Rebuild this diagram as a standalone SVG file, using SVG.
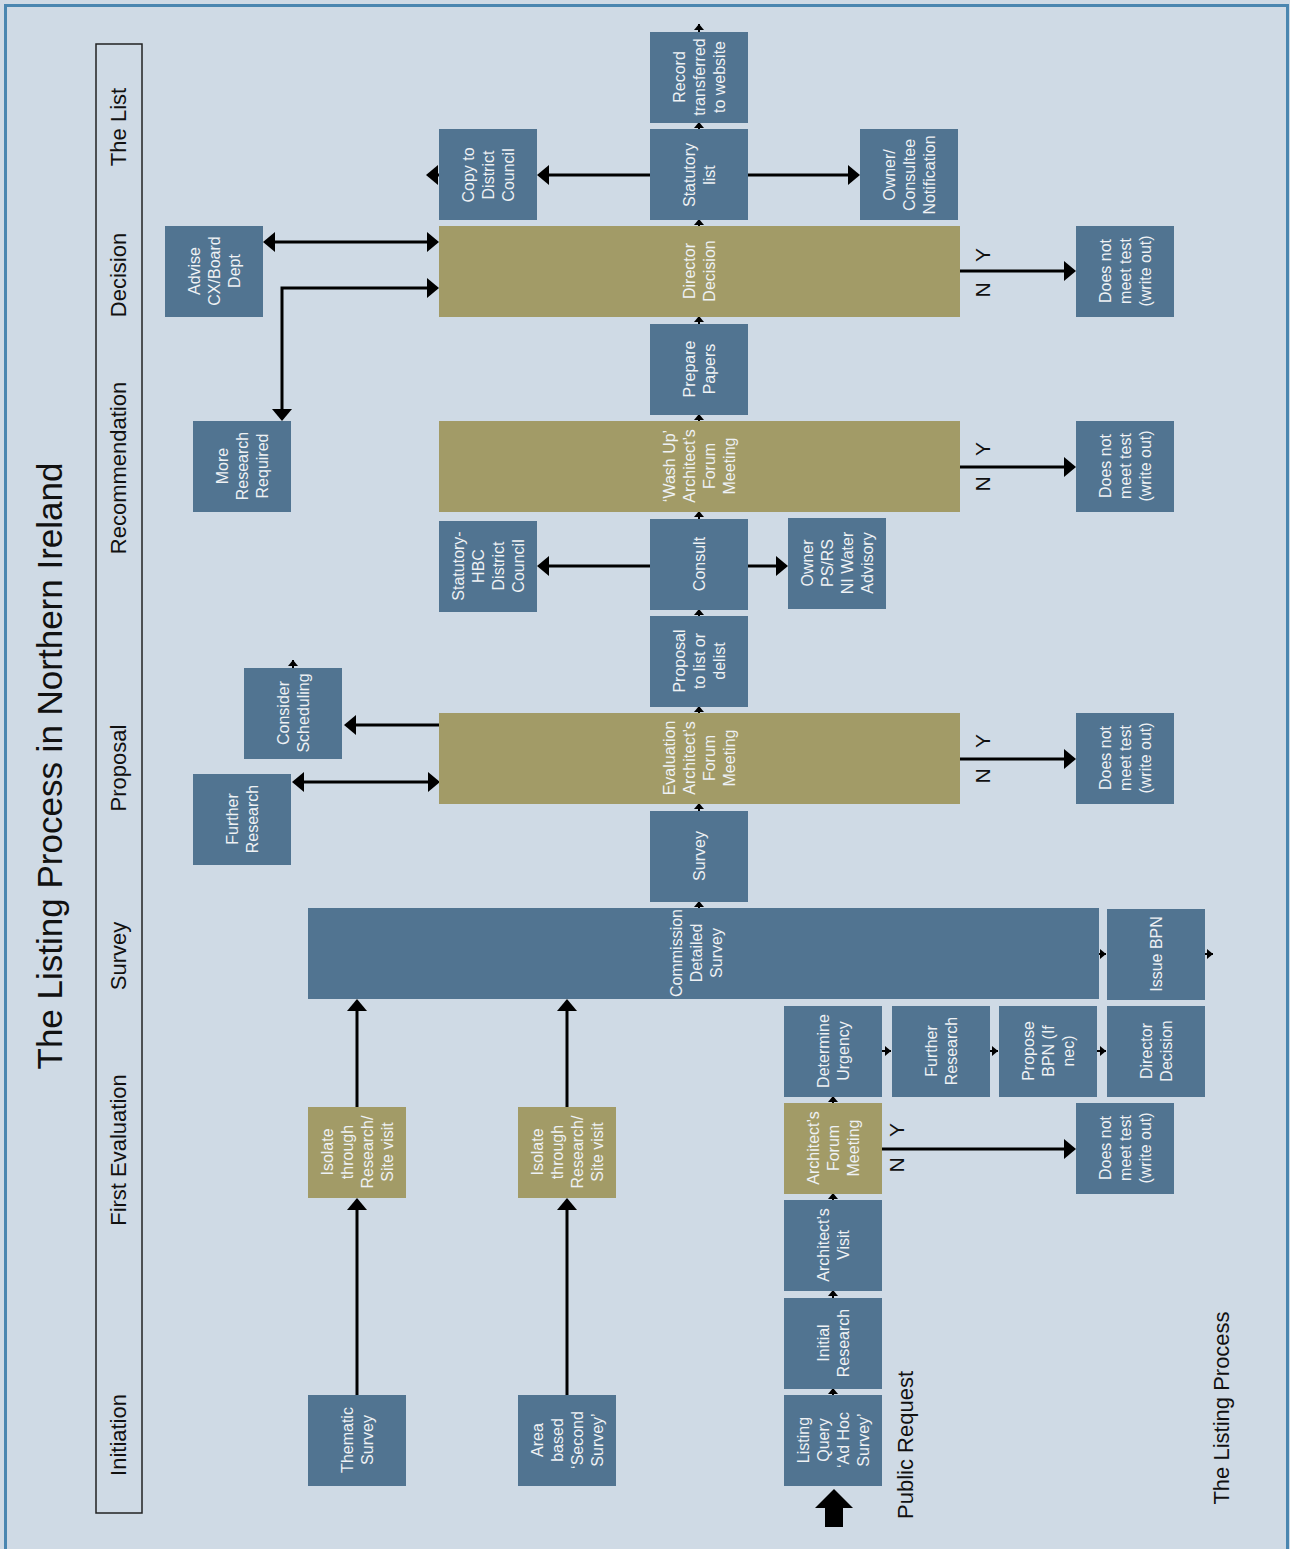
<svg xmlns="http://www.w3.org/2000/svg" width="1290" height="1549" viewBox="0 0 1290 1549">
<defs>
<style>
.b{fill:#517491}
.g{fill:#A29B67}
.t{font-family:"Liberation Sans",Arial,sans-serif;font-size:16px;fill:#EEF1F4;text-anchor:middle}
.h{font-family:"Liberation Sans",Arial,sans-serif;font-size:22px;fill:#111;text-anchor:middle}
.yn{font-family:"Liberation Sans",Arial,sans-serif;font-size:21px;fill:#111;text-anchor:middle}
.c{fill:none;stroke:#000;stroke-width:3}
.s{fill:none;stroke:#000;stroke-width:2}
</style>
<marker id="ah" markerUnits="userSpaceOnUse" markerWidth="13" markerHeight="20" refX="9" refY="10" orient="auto-start-reverse"><path d="M0,0 L12,10 L0,20 z" fill="#000"/></marker>
<marker id="sa" markerUnits="userSpaceOnUse" markerWidth="7" markerHeight="10" refX="6" refY="5" orient="auto"><path d="M0,0 L6,5 L0,10 z" fill="#000"/></marker>
</defs>
<rect x="0" y="0" width="1290" height="1549" fill="#CFDAE5"/>
<rect x="5.5" y="5.5" width="1282" height="1560" fill="none" stroke="#4A86B0" stroke-width="3"/>

<text transform="translate(62,766) rotate(-90)" font-family="'Liberation Sans',Arial,sans-serif" font-size="35" fill="#111" text-anchor="middle">The Listing Process in Northern Ireland</text>

<g id="header">
<rect x="96" y="44" width="46" height="1469" fill="none" stroke="#222" stroke-width="1.5"/>
<text class="h" transform="translate(126,127) rotate(-90)">The List</text>
<text class="h" transform="translate(126,275) rotate(-90)">Decision</text>
<text class="h" transform="translate(126,468) rotate(-90)">Recommendation</text>
<text class="h" transform="translate(126,768) rotate(-90)">Proposal</text>
<text class="h" transform="translate(126,956) rotate(-90)">Survey</text>
<text class="h" transform="translate(126,1150) rotate(-90)">First Evaluation</text>
<text class="h" transform="translate(126,1435) rotate(-90)">Initiation</text>
</g>

<text class="h" transform="translate(913,1445) rotate(-90)">Public Request</text>
<text class="h" transform="translate(1229,1408) rotate(-90)">The Listing Process</text>

<g id="connectors">
<path class="c" d="M650,175 H540" marker-end="url(#ah)"/>
<path class="c" d="M439,175 H429" marker-end="url(#ah)"/>
<path class="c" d="M748,175 H857" marker-end="url(#ah)"/>
<path class="c" d="M266,242 H436" marker-start="url(#ah)" marker-end="url(#ah)"/>
<path class="c" d="M282,418 V288 H436" marker-start="url(#ah)" marker-end="url(#ah)"/>
<path class="c" d="M960,271 H1073" marker-end="url(#ah)"/>
<path class="c" d="M960,467 H1073" marker-end="url(#ah)"/>
<path class="c" d="M650,566 H540" marker-end="url(#ah)"/>
<path class="c" d="M748,566 H785" marker-end="url(#ah)"/>
<path class="c" d="M439,725 H347" marker-end="url(#ah)"/>
<path class="c" d="M295,782 H437" marker-start="url(#ah)" marker-end="url(#ah)"/>
<path class="c" d="M960,759 H1073" marker-end="url(#ah)"/>
<path class="c" d="M882,1149 H1073" marker-end="url(#ah)"/>
<path class="c" d="M357,1395 V1201" marker-end="url(#ah)"/>
<path class="c" d="M357,1107 V1002" marker-end="url(#ah)"/>
<path class="c" d="M567,1395 V1201" marker-end="url(#ah)"/>
<path class="c" d="M567,1107 V1002" marker-end="url(#ah)"/>

<path class="s" d="M699,32 V24" marker-end="url(#sa)"/>
<path class="s" d="M699,129 V122" marker-end="url(#sa)"/>
<path class="s" d="M699,226 V219" marker-end="url(#sa)"/>
<path class="s" d="M699,324 V316" marker-end="url(#sa)"/>
<path class="s" d="M699,421 V414" marker-end="url(#sa)"/>
<path class="s" d="M699,519 V511" marker-end="url(#sa)"/>
<path class="s" d="M699,616 V609" marker-end="url(#sa)"/>
<path class="s" d="M699,713 V706" marker-end="url(#sa)"/>
<path class="s" d="M699,811 V803" marker-end="url(#sa)"/>
<path class="s" d="M699,908 V901" marker-end="url(#sa)"/>
<path class="s" d="M293,668 V660" marker-end="url(#sa)"/>
<path class="s" d="M833,1395 V1388" marker-end="url(#sa)"/>
<path class="s" d="M833,1298 V1290" marker-end="url(#sa)"/>
<path class="s" d="M833,1200 V1193" marker-end="url(#sa)"/>
<path class="s" d="M833,1103 V1096" marker-end="url(#sa)"/>
<path class="s" d="M882,1051 H891" marker-end="url(#sa)"/>
<path class="s" d="M990,1051 H998" marker-end="url(#sa)"/>
<path class="s" d="M1097,1051 H1106" marker-end="url(#sa)"/>
<path class="s" d="M1099,954 H1106" marker-end="url(#sa)"/>
<path class="s" d="M1205,954 H1213" marker-end="url(#sa)"/>

<polygon points="834,1489 853,1508 843,1508 843,1527 825,1527 825,1508 815,1508" fill="#000"/>

<text class="yn" transform="translate(983,255) rotate(-90)" dy="7">Y</text>
<text class="yn" transform="translate(983,290) rotate(-90)" dy="7">N</text>
<text class="yn" transform="translate(983,449) rotate(-90)" dy="7">Y</text>
<text class="yn" transform="translate(983,484) rotate(-90)" dy="7">N</text>
<text class="yn" transform="translate(983,741) rotate(-90)" dy="7">Y</text>
<text class="yn" transform="translate(983,776) rotate(-90)" dy="7">N</text>
<text class="yn" transform="translate(897,1130) rotate(-90)" dy="7">Y</text>
<text class="yn" transform="translate(897,1165) rotate(-90)" dy="7">N</text>
</g>

<g id="n-record"><rect class="b" x="650" y="32" width="98" height="91"/>
<text class="t" transform="translate(699,77) rotate(-90)"><tspan x="0" y="-14.5">Record</tspan><tspan x="0" y="5.5">transferred</tspan><tspan x="0" y="25.5">to website</tspan></text></g>

<g id="n-statutory"><rect class="b" x="650" y="129" width="98" height="91"/>
<text class="t" transform="translate(699,175) rotate(-90)"><tspan x="0" y="-4.5">Statutory</tspan><tspan x="0" y="15.5">list</tspan></text></g>

<g id="n-copy"><rect class="b" x="439" y="129" width="98" height="91"/>
<text class="t" transform="translate(488,175) rotate(-90)"><tspan x="0" y="-14.5">Copy to</tspan><tspan x="0" y="5.5">District</tspan><tspan x="0" y="25.5">Council</tspan></text></g>

<g id="n-owner"><rect class="b" x="860" y="129" width="98" height="91"/>
<text class="t" transform="translate(909,175) rotate(-90)"><tspan x="0" y="-14.5">Owner/</tspan><tspan x="0" y="5.5">Consultee</tspan><tspan x="0" y="25.5">Notification</tspan></text></g>

<g id="n-director"><rect class="g" x="439" y="226" width="521" height="91"/>
<text class="t" transform="translate(699,271) rotate(-90)"><tspan x="0" y="-4.5">Director</tspan><tspan x="0" y="15.5">Decision</tspan></text></g>

<g id="n-advise"><rect class="b" x="165" y="226" width="98" height="91"/>
<text class="t" transform="translate(214,271) rotate(-90)"><tspan x="0" y="-14.5">Advise</tspan><tspan x="0" y="5.5">CX/Board</tspan><tspan x="0" y="25.5">Dept</tspan></text></g>

<g id="n-dnm1"><rect class="b" x="1076" y="226" width="98" height="91"/>
<text class="t" transform="translate(1125,271) rotate(-90)"><tspan x="0" y="-14.5">Does not</tspan><tspan x="0" y="5.5">meet test</tspan><tspan x="0" y="25.5">(write out)</tspan></text></g>

<g id="n-prepare"><rect class="b" x="650" y="324" width="98" height="91"/>
<text class="t" transform="translate(699,369) rotate(-90)"><tspan x="0" y="-4.5">Prepare</tspan><tspan x="0" y="15.5">Papers</tspan></text></g>

<g id="n-more"><rect class="b" x="193" y="421" width="98" height="91"/>
<text class="t" transform="translate(242,466) rotate(-90)"><tspan x="0" y="-14.5">More</tspan><tspan x="0" y="5.5">Research</tspan><tspan x="0" y="25.5">Required</tspan></text></g>

<g id="n-washup"><rect class="g" x="439" y="421" width="521" height="91"/>
<text class="t" transform="translate(699,466) rotate(-90)"><tspan x="0" y="-24.5">‘Wash Up’</tspan><tspan x="0" y="-4.5">Architect’s</tspan><tspan x="0" y="15.5">Forum</tspan><tspan x="0" y="35.5">Meeting</tspan></text></g>

<g id="n-dnm2"><rect class="b" x="1076" y="421" width="98" height="91"/>
<text class="t" transform="translate(1125,466) rotate(-90)"><tspan x="0" y="-14.5">Does not</tspan><tspan x="0" y="5.5">meet test</tspan><tspan x="0" y="25.5">(write out)</tspan></text></g>

<g id="n-hbc"><rect class="b" x="439" y="521" width="98" height="91"/>
<text class="t" transform="translate(488,566) rotate(-90)"><tspan x="0" y="-24.5">Statutory-</tspan><tspan x="0" y="-4.5">HBC</tspan><tspan x="0" y="15.5">District</tspan><tspan x="0" y="35.5">Council</tspan></text></g>

<g id="n-consult"><rect class="b" x="650" y="519" width="98" height="91"/>
<text class="t" transform="translate(699,564) rotate(-90)"><tspan x="0" y="5.5">Consult</tspan></text></g>

<g id="n-ownerps"><rect class="b" x="788" y="518" width="98" height="91"/>
<text class="t" transform="translate(837,563) rotate(-90)"><tspan x="0" y="-24.5">Owner</tspan><tspan x="0" y="-4.5">PS/RS</tspan><tspan x="0" y="15.5">NI Water</tspan><tspan x="0" y="35.5">Advisory</tspan></text></g>

<g id="n-proposal"><rect class="b" x="650" y="616" width="98" height="91"/>
<text class="t" transform="translate(699,661) rotate(-90)"><tspan x="0" y="-14.5">Proposal</tspan><tspan x="0" y="5.5">to list or</tspan><tspan x="0" y="25.5">delist</tspan></text></g>

<g id="n-scheduling"><rect class="b" x="244" y="668" width="98" height="91"/>
<text class="t" transform="translate(293,713) rotate(-90)"><tspan x="0" y="-4.5">Consider</tspan><tspan x="0" y="15.5">Scheduling</tspan></text></g>

<g id="n-evaluation"><rect class="g" x="439" y="713" width="521" height="91"/>
<text class="t" transform="translate(699,758) rotate(-90)"><tspan x="0" y="-24.5">Evaluation</tspan><tspan x="0" y="-4.5">Architect’s</tspan><tspan x="0" y="15.5">Forum</tspan><tspan x="0" y="35.5">Meeting</tspan></text></g>

<g id="n-further1"><rect class="b" x="193" y="774" width="98" height="91"/>
<text class="t" transform="translate(242,819) rotate(-90)"><tspan x="0" y="-4.5">Further</tspan><tspan x="0" y="15.5">Research</tspan></text></g>

<g id="n-dnm3"><rect class="b" x="1076" y="713" width="98" height="91"/>
<text class="t" transform="translate(1125,758) rotate(-90)"><tspan x="0" y="-14.5">Does not</tspan><tspan x="0" y="5.5">meet test</tspan><tspan x="0" y="25.5">(write out)</tspan></text></g>

<g id="n-survey"><rect class="b" x="650" y="811" width="98" height="91"/>
<text class="t" transform="translate(699,856) rotate(-90)"><tspan x="0" y="5.5">Survey</tspan></text></g>

<g id="n-commission"><rect class="b" x="308" y="908" width="791" height="91"/>
<text class="t" transform="translate(696,953) rotate(-90)"><tspan x="0" y="-14.5">Commission</tspan><tspan x="0" y="5.5">Detailed</tspan><tspan x="0" y="25.5">Survey</tspan></text></g>

<g id="n-bpn"><rect class="b" x="1107" y="909" width="98" height="91"/>
<text class="t" transform="translate(1156,954) rotate(-90)"><tspan x="0" y="5.5">Issue BPN</tspan></text></g>

<g id="n-urgency"><rect class="b" x="784" y="1006" width="98" height="91"/>
<text class="t" transform="translate(833,1051) rotate(-90)"><tspan x="0" y="-4.5">Determine</tspan><tspan x="0" y="15.5">Urgency</tspan></text></g>

<g id="n-further2"><rect class="b" x="892" y="1006" width="98" height="91"/>
<text class="t" transform="translate(941,1051) rotate(-90)"><tspan x="0" y="-4.5">Further</tspan><tspan x="0" y="15.5">Research</tspan></text></g>

<g id="n-proposebpn"><rect class="b" x="999" y="1006" width="98" height="91"/>
<text class="t" transform="translate(1048,1051) rotate(-90)"><tspan x="0" y="-14.5">Propose</tspan><tspan x="0" y="5.5">BPN (If</tspan><tspan x="0" y="25.5">nec)</tspan></text></g>

<g id="n-director2"><rect class="b" x="1107" y="1006" width="98" height="91"/>
<text class="t" transform="translate(1156,1051) rotate(-90)"><tspan x="0" y="-4.5">Director</tspan><tspan x="0" y="15.5">Decision</tspan></text></g>

<g id="n-afm"><rect class="g" x="784" y="1103" width="98" height="91"/>
<text class="t" transform="translate(833,1148) rotate(-90)"><tspan x="0" y="-14.5">Architect’s</tspan><tspan x="0" y="5.5">Forum</tspan><tspan x="0" y="25.5">Meeting</tspan></text></g>

<g id="n-dnm4"><rect class="b" x="1076" y="1103" width="98" height="91"/>
<text class="t" transform="translate(1125,1148) rotate(-90)"><tspan x="0" y="-14.5">Does not</tspan><tspan x="0" y="5.5">meet test</tspan><tspan x="0" y="25.5">(write out)</tspan></text></g>

<g id="n-visit"><rect class="b" x="784" y="1200" width="98" height="91"/>
<text class="t" transform="translate(833,1245) rotate(-90)"><tspan x="0" y="-4.5">Architect’s</tspan><tspan x="0" y="15.5">Visit</tspan></text></g>

<g id="n-initial"><rect class="b" x="784" y="1298" width="98" height="91"/>
<text class="t" transform="translate(833,1343) rotate(-90)"><tspan x="0" y="-4.5">Initial</tspan><tspan x="0" y="15.5">Research</tspan></text></g>

<g id="n-query"><rect class="b" x="784" y="1395" width="98" height="91"/>
<text class="t" transform="translate(833,1440) rotate(-90)"><tspan x="0" y="-24.5">Listing</tspan><tspan x="0" y="-4.5">Query</tspan><tspan x="0" y="15.5">‘Ad Hoc</tspan><tspan x="0" y="35.5">Survey’</tspan></text></g>

<g id="n-isolate1"><rect class="g" x="308" y="1107" width="98" height="91"/>
<text class="t" transform="translate(357,1152) rotate(-90)"><tspan x="0" y="-24.5">Isolate</tspan><tspan x="0" y="-4.5">through</tspan><tspan x="0" y="15.5">Research/</tspan><tspan x="0" y="35.5">Site visit</tspan></text></g>

<g id="n-isolate2"><rect class="g" x="518" y="1107" width="98" height="91"/>
<text class="t" transform="translate(567,1152) rotate(-90)"><tspan x="0" y="-24.5">Isolate</tspan><tspan x="0" y="-4.5">through</tspan><tspan x="0" y="15.5">Research/</tspan><tspan x="0" y="35.5">Site visit</tspan></text></g>

<g id="n-thematic"><rect class="b" x="308" y="1395" width="98" height="91"/>
<text class="t" transform="translate(357,1440) rotate(-90)"><tspan x="0" y="-4.5">Thematic</tspan><tspan x="0" y="15.5">Survey</tspan></text></g>

<g id="n-area"><rect class="b" x="518" y="1395" width="98" height="91"/>
<text class="t" transform="translate(567,1440) rotate(-90)"><tspan x="0" y="-24.5">Area</tspan><tspan x="0" y="-4.5">based</tspan><tspan x="0" y="15.5">‘Second</tspan><tspan x="0" y="35.5">Survey’</tspan></text></g>
</svg>
